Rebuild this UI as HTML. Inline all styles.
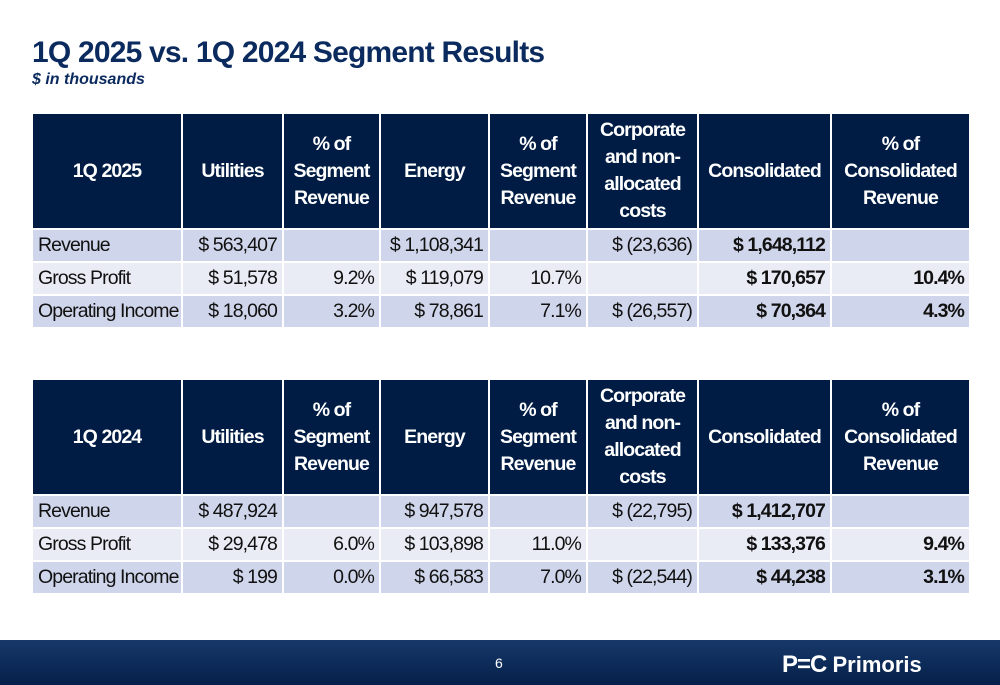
<!DOCTYPE html>
<html><head><meta charset="utf-8">
<style>
body{margin:0;width:1000px;height:685px;background:#fff;position:relative;overflow:hidden;font-family:"Liberation Sans",Arial,sans-serif;}
.title{position:absolute;left:32px;top:36px;font-size:30px;font-weight:bold;color:#0b2a5e;letter-spacing:-0.8px;}
.sub{position:absolute;left:32px;top:71px;font-size:16px;font-weight:bold;font-style:italic;color:#0b2a5e;}
table{position:absolute;left:31px;border-collapse:collapse;table-layout:fixed;width:938px;}
td,th{border:2px solid #fff;padding:0 5px;font-size:19.5px;letter-spacing:-0.9px;color:#111;white-space:nowrap;overflow:visible;}
th{background:#001c44;color:#fff;font-weight:bold;text-align:center;height:114px;line-height:27px;padding:0 2px;font-size:19.5px;}
td{height:31px;line-height:31px;text-align:right;}
td:first-child{text-align:left;}
tr.a td{background:#cfd5ea;}
tr.b td{background:#e9ebf5;}
.bd{font-weight:bold;}
.footer{position:absolute;left:0;top:640px;width:1000px;height:45px;background:linear-gradient(#17386a,#05204a);}
.pg{position:absolute;left:495px;top:655px;color:#fff;font-size:14px;}
.logo{position:absolute;left:782px;top:651px;color:#fff;font-weight:bold;font-size:22px;}
</style></head><body>
<div class="title">1Q 2025 vs. 1Q 2024 Segment Results</div>
<div class="sub">$ in thousands</div>

<table style="top:112px">
<colgroup><col style="width:150px"><col style="width:101px"><col style="width:97px"><col style="width:109px"><col style="width:98px"><col style="width:111px"><col style="width:133px"><col style="width:139px"></colgroup>
<tr><th>1Q 2025</th><th>Utilities</th><th>% of<br>Segment<br>Revenue</th><th>Energy</th><th>% of<br>Segment<br>Revenue</th><th>Corporate<br>and non-<br>allocated<br>costs</th><th>Consolidated</th><th>% of<br>Consolidated<br>Revenue</th></tr>
<tr class="a"><td>Revenue</td><td>$ 563,407</td><td></td><td>$ 1,108,341</td><td></td><td>$ (23,636)</td><td class="bd">$ 1,648,112</td><td></td></tr>
<tr class="b"><td>Gross Profit</td><td>$ 51,578</td><td>9.2%</td><td>$ 119,079</td><td>10.7%</td><td></td><td class="bd">$ 170,657</td><td class="bd">10.4%</td></tr>
<tr class="a"><td>Operating Income</td><td>$ 18,060</td><td>3.2%</td><td>$ 78,861</td><td>7.1%</td><td>$ (26,557)</td><td class="bd">$ 70,364</td><td class="bd">4.3%</td></tr>
</table>

<table style="top:378px">
<colgroup><col style="width:150px"><col style="width:101px"><col style="width:97px"><col style="width:109px"><col style="width:98px"><col style="width:111px"><col style="width:133px"><col style="width:139px"></colgroup>
<tr><th>1Q 2024</th><th>Utilities</th><th>% of<br>Segment<br>Revenue</th><th>Energy</th><th>% of<br>Segment<br>Revenue</th><th>Corporate<br>and non-<br>allocated<br>costs</th><th>Consolidated</th><th>% of<br>Consolidated<br>Revenue</th></tr>
<tr class="a"><td>Revenue</td><td>$ 487,924</td><td></td><td>$ 947,578</td><td></td><td>$ (22,795)</td><td class="bd">$ 1,412,707</td><td></td></tr>
<tr class="b"><td>Gross Profit</td><td>$ 29,478</td><td>6.0%</td><td>$ 103,898</td><td>11.0%</td><td></td><td class="bd">$ 133,376</td><td class="bd">9.4%</td></tr>
<tr class="a"><td>Operating Income</td><td>$ 199</td><td>0.0%</td><td>$ 66,583</td><td>7.0%</td><td>$ (22,544)</td><td class="bd">$ 44,238</td><td class="bd">3.1%</td></tr>
</table>

<div class="footer"></div>
<div class="pg">6</div>
<div class="logo"><span style="letter-spacing:-1px;font-size:24px">P=C</span> Primoris</div>
</body></html>
